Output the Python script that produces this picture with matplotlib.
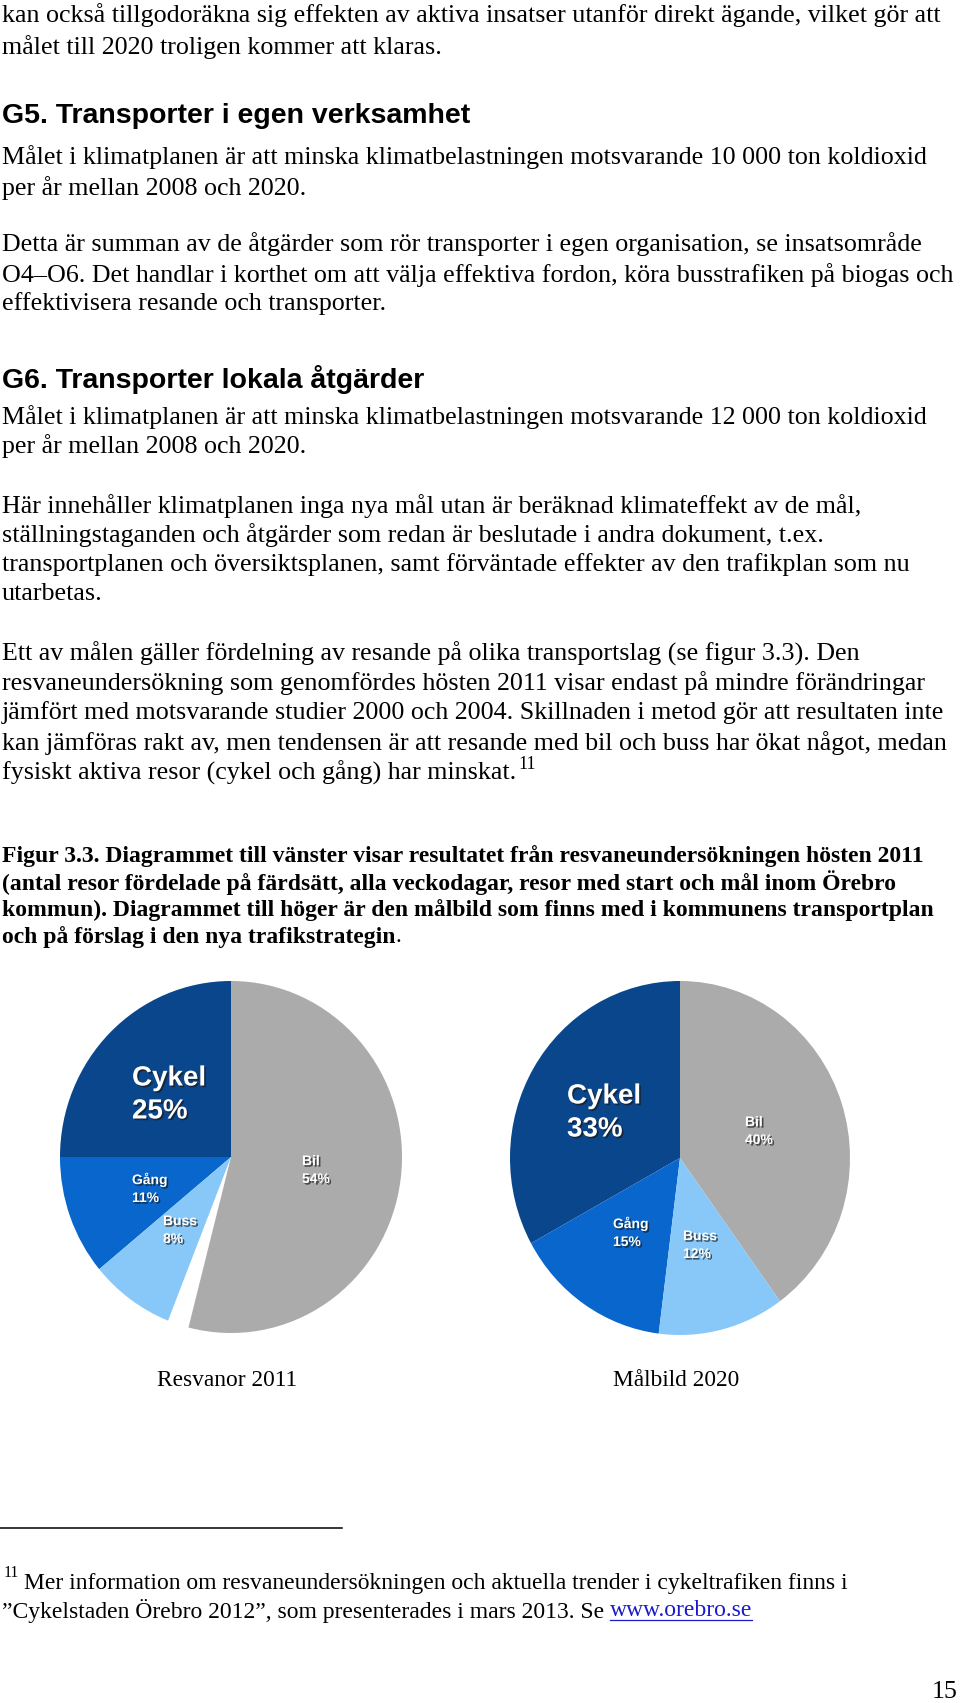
import matplotlib
matplotlib.use("Agg")
import matplotlib.pyplot as plt
import matplotlib.patheffects as pe
from matplotlib.lines import Line2D

W, H = 960, 1703

# data
modes = ["Bil", "Cykel", "Gång", "Buss"]
share_2011 = [54, 25, 11, 8]      # sums to 98, the rest is the white gap
share_2020 = [40, 33, 15, 12]
mode_colors = ["#ababab", "#0a468c", "#0866cc", "#88c8f8"]
pie_titles = ["Resvanor 2011", "Målbild 2020"]

body_lines = [
    (15, "kan också tillgodoräkna sig effekten av aktiva insatser utanför direkt ägande, vilket gör att"),
    (47, "målet till 2020 troligen kommer att klaras."),
    (157, "Målet i klimatplanen är att minska klimatbelastningen motsvarande 10 000 ton koldioxid"),
    (188, "per år mellan 2008 och 2020."),
    (244, "Detta är summan av de åtgärder som rör transporter i egen organisation, se insatsområde"),
    (275, "O4–O6. Det handlar i korthet om att välja effektiva fordon, köra busstrafiken på biogas och"),
    (304, "effektivisera resande och transporter."),
    (417, "Målet i klimatplanen är att minska klimatbelastningen motsvarande 12 000 ton koldioxid"),
    (446, "per år mellan 2008 och 2020."),
    (506, "Här innehåller klimatplanen inga nya mål utan är beräknad klimateffekt av de mål,"),
    (535, "ställningstaganden och åtgärder som redan är beslutade i andra dokument, t.ex."),
    (565, "transportplanen och översiktsplanen, samt förväntade effekter av den trafikplan som nu"),
    (594, "utarbetas."),
    (654, "Ett av målen gäller fördelning av resande på olika transportslag (se figur 3.3). Den"),
    (683, "resvaneundersökning som genomfördes hösten 2011 visar endast på mindre förändringar"),
    (713, "jämfört med motsvarande studier 2000 och 2004. Skillnaden i metod gör att resultaten inte"),
    (743, "kan jämföras rakt av, men tendensen är att resande med bil och buss har ökat något, medan"),
]
last_line = (773, "fysiskt aktiva resor (cykel och gång) har minskat.")

headings = [(116, "G5. Transporter i egen verksamhet"),
            (379, "G6. Transporter lokala åtgärder")]

caption_lines = [
    (856, "Figur 3.3. Diagrammet till vänster visar resultatet från resvaneundersökningen hösten 2011"),
    (883, "(antal resor fördelade på färdsätt, alla veckodagar, resor med start och mål inom Örebro"),
    (910, "kommun). Diagrammet till höger är den målbild som finns med i kommunens transportplan"),
]
caption_last = (937, "och på förslag i den nya trafikstrategin")

foot_1 = "Mer information om resvaneundersökningen och aktuella trender i cykeltrafiken finns i"
foot_2 = "”Cykelstaden Örebro 2012”, som presenterades i mars 2013. Se "
foot_link = "www.orebro.se"

SERIF = "Liberation Serif"
SANS = "Liberation Sans"
BODY = 18.7
CAPTION = 17
FOOT = 17


def fx(x):
    return x / W


def fy(y):
    return 1 - y / H


fig = plt.figure(figsize=(W / 100, H / 100), dpi=100)
fig.patch.set_facecolor("white")


def txt(x, y, s, **kw):
    kw.setdefault("family", SERIF)
    kw.setdefault("fontsize", BODY)
    kw.setdefault("va", "center")
    kw.setdefault("color", "black")
    return fig.text(fx(x), fy(y), s, **kw)


for y, s in body_lines:
    txt(2, y, s)
t_last = txt(2, last_line[0], last_line[1])
for y, s in headings:
    txt(2, y, s, family=SANS, fontweight="bold", fontsize=20.5)
for y, s in caption_lines:
    txt(2, y, s, fontweight="bold", fontsize=CAPTION)
t_cap = txt(2, caption_last[0], caption_last[1], fontweight="bold", fontsize=CAPTION)

# pies
pie_boxes = [(231, 1157, 171, 176), (680, 1158, 170, 177)]
shares = [share_2011, share_2020]
for (cx, cy, rx, ry), sh in zip(pie_boxes, shares):
    ax = fig.add_axes([fx(cx - rx), fy(cy + ry), 2 * rx / W, 2 * ry / H])
    frac = [v / 100 for v in sh]
    ax.pie(frac, colors=mode_colors, startangle=90 - frac[0] * 360,
           normalize=False, radius=1, wedgeprops=dict(linewidth=0))
    ax.set_xlim(-1, 1)
    ax.set_ylim(-1, 1)
    ax.set_aspect("auto")
    ax.axis("off")

shadow = [pe.withSimplePatchShadow(offset=(1.2, -1.2), shadow_rgbFace="#1a1a1a", alpha=0.7)]
# label anchor positions (left edge, vertical centre) per pie and mode
label_pos = [
    {"Bil": (302, 1170), "Cykel": (132, 1095), "Gång": (132, 1188), "Buss": (163, 1230)},
    {"Bil": (745, 1131), "Cykel": (567, 1113), "Gång": (613, 1232), "Buss": (683, 1245)},
]
for sh, pos in zip(shares, label_pos):
    for m, v in zip(modes, sh):
        big = m == "Cykel"
        txt(pos[m][0], pos[m][1], f"{m}\n{v}%", family=SANS, fontweight="bold",
            fontsize=20 if big else 10, color="white", linespacing=1.35,
            path_effects=shadow)

for (cx, cy, rx, ry), title in zip(pie_boxes, pie_titles):
    txt(cx - 4, 1381, title, ha="center", fontsize=16.8)

# footnote rule
fig.add_artist(Line2D([fx(0), fx(342)], [fy(1528), fy(1528)], color="black", lw=1.1))
txt(4, 1573, "11", fontsize=11.5)
txt(24, 1583, foot_1, fontsize=FOOT)
t_f2 = txt(2, 1611, foot_2, fontsize=FOOT)
txt(958, 1692, "15", ha="right")

fig.canvas.draw()
r = fig.canvas.get_renderer()

bb = t_last.get_window_extent(r)
txt(bb.x1 + 2, 764, "11", fontsize=13)

bb = t_cap.get_window_extent(r)
txt(bb.x1, caption_last[0], ".", fontsize=CAPTION)

bb = t_f2.get_window_extent(r)
t_link = fig.text(bb.x1 / W, fy(1611), foot_link, family=SERIF, fontsize=FOOT,
                  va="center", color="#1a1acc")
fig.canvas.draw()
lb = t_link.get_window_extent(r)
fig.add_artist(Line2D([lb.x0 / W, lb.x1 / W], [(lb.y0 + 2) / H, (lb.y0 + 2) / H],
                      color="#1a1acc", lw=0.9))

fig.savefig("out.png", dpi=100, facecolor="white")
